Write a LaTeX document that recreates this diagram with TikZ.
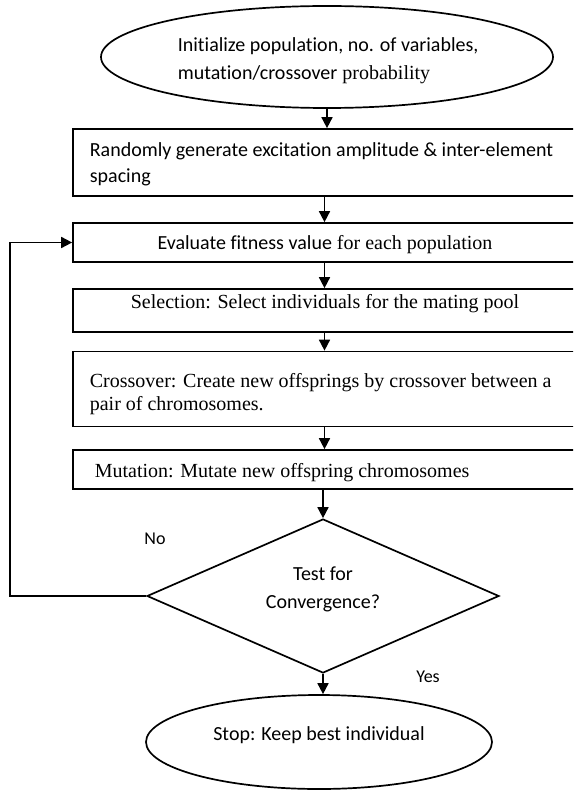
\documentclass[tikz,border=0pt]{standalone}
\usepackage{fontspec}
\setmainfont{Liberation Serif}
\newfontfamily\calfont[Ligatures=NoCommon]{Carlito}
\usetikzlibrary{shapes.geometric,arrows.meta}
\begin{document}
\begin{tikzpicture}[x=1pt,y=-1pt,
  line width=1.7pt,
  shapebox/.style={draw, rectangle, inner sep=0pt, minimum width=503pt},
  oval/.style={draw, ellipse, inner sep=0pt},
  txt/.style={inner sep=0pt, font=\fontsize{20}{24}\selectfont},
  lbl/.style={inner sep=0pt, font=\calfont\fontsize{18}{22}\selectfont},
  arr/.style={-{Triangle[length=11pt,width=11pt]}},
]
\useasboundingbox (0,0) rectangle (573,791);
\clip (0,0) rectangle (573,791);
% shapes
\node[oval, minimum width=452pt, minimum height=102pt] (init) at (327,57) {};
\node[shapebox, minimum height=67pt] (gen) at (324.5,162.5) {};
\node[shapebox, minimum height=39pt] (eval) at (324.5,242.5) {};
\node[shapebox, minimum height=43pt] (sel) at (324.5,310.5) {};
\node[shapebox, minimum height=75pt] (cross) at (324.5,389) {};
\node[shapebox, minimum height=39pt] (mut) at (324.5,469.5) {};
\node[draw, diamond, inner sep=0pt, minimum width=352pt, minimum height=154pt] (test) at (323,596) {};
\node[oval, minimum width=346pt, minimum height=94pt] (stop) at (319,742) {};
% texts
\node[txt, anchor=base west] (initA) at (177,52) {\calfont Initialize population, no. of variables,};
\node[txt, anchor=base west] (initB) at (177,80) {{\calfont mutation/crossover} probability};
\node[txt, anchor=base west] (genA) at (89,157) {\calfont Randomly generate excitation amplitude \& inter-element};
\node[txt, anchor=base west] (genB) at (89,183) {\calfont spacing};
\node[txt, anchor=base] (evalT) at (325,250) {{\calfont Evaluate fitness value} for each population};
\node[txt, anchor=base] (selT) at (325,308) {Selection: Select individuals for the mating pool};
\node[txt, anchor=base west] (crossA) at (89,387) {Crossover: Create new offsprings by crossover between a};
\node[txt, anchor=base west] (crossB) at (89,410) {pair of chromosomes.};
\node[txt, anchor=base west] (mutT) at (94,477) {Mutation: Mutate new offspring chromosomes};
\node[txt, anchor=base] (testA) at (323,580) {\calfont Test for};
\node[txt, anchor=base] (testB) at (323,608) {\calfont Convergence?};
\node[txt, anchor=base] (stopT) at (319,740) {\calfont Stop: Keep best individual};
\node[lbl] (no) at (155,539) {No};
\node[lbl] (yes) at (428,677) {Yes};
% connectors
\draw[arr] (init.south) -- (init.south |- gen.north);
\draw[arr] (gen.south) -- (eval.north);
\draw[arr] (eval.south) -- (sel.north);
\draw[arr] (sel.south) -- (cross.north);
\draw[arr] (cross.south) -- (mut.north);
\draw[arr] (mut.south -| test.north) -- (test.north);
\draw[arr] (test.south) -- (test.south |- stop.north);
\coordinate (loop) at (10,596);
\draw[arr] (test.west) -- (loop) |- (eval.west);
\end{tikzpicture}
\end{document}
